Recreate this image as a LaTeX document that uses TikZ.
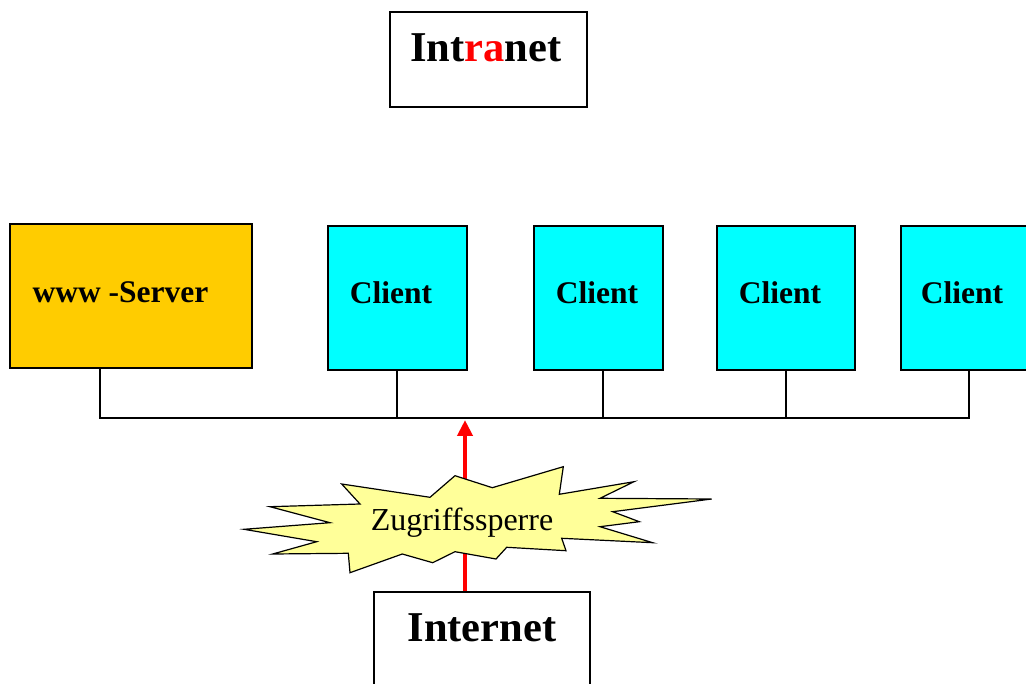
\documentclass[tikz,border=0pt]{standalone}
\usepackage{fontspec}
\setmainfont{Liberation Serif}
\usetikzlibrary{arrows.meta}
\definecolor{servercol}{HTML}{FFCC00}
\definecolor{clientcol}{HTML}{00FFFF}
\definecolor{starcol}{HTML}{FFFF99}
\tikzset{
  box/.style={draw=black, line width=1.6pt, inner sep=0pt},
  clientbox/.style={box, fill=clientcol, minimum width=138, minimum height=144},
  bigtxt/.style={font=\fontsize{42.5}{48}\selectfont\bfseries, inner sep=0pt},
  boxtxt/.style={font=\fontsize{31.5}{36}\selectfont\bfseries, inner sep=0pt},
  startxt/.style={font=\fontsize{32}{36}\selectfont, inner sep=0pt},
  wire/.style={draw=black, line width=1.3pt},
  gate/.style={draw=red, line width=4pt, -{Triangle[length=16pt,width=15pt]}},
}
\begin{document}
\begin{tikzpicture}[x=1pt, y=-1pt]
\useasboundingbox (0,0) rectangle (1026,684);
\clip (0,0) rectangle (1026,684);

% Intranet title
\node[box, minimum width=197, minimum height=95] (intra) at (488.5,59.5) {};
\node[bigtxt] (intratxt) at (486,48) {Int\textcolor{red}{ra}net};

% server and clients
\node[box, fill=servercol, minimum width=242, minimum height=144] (srv) at (131,296) {};
\node[boxtxt] (srvtxt) at (120.5,292) {www -Server};
\node[clientbox, minimum width=139] (c1) at (397.5,298) {};
\node[boxtxt] (c1txt) at (391,293) {Client};
\node[clientbox, minimum width=129] (c2) at (598.5,298) {};
\node[boxtxt] (c2txt) at (597,293) {Client};
\node[clientbox, minimum width=138] (c3) at (786,298) {};
\node[boxtxt] (c3txt) at (780,293) {Client};
\node[clientbox, minimum width=138] (c4) at (970,298) {};
\node[boxtxt] (c4txt) at (962,293) {Client};

% bus taps
\coordinate (t0) at (100,418);
\coordinate (t1) at (397,418);
\coordinate (t2) at (603,418);
\coordinate (t3) at (786,418);
\coordinate (t4) at (969,418);
\coordinate (tip) at (465,420);

\path[wire] (srv.south -| t0) -- (t0) -- (t4) -- (c4.south -| t4);
\path[wire] (c1.south -| t1) -- (t1);
\path[wire] (c2.south -| t2) -- (t2);
\path[wire] (c3.south -| t3) -- (t3);

% Internet box
\node[box, minimum width=216, minimum height=110] (inet) at (482,647) {};
\node[bigtxt] (inettxt) at (482,628) {Internet};

% guarded access from outside
\draw[gate] (inet.north -| tip) -- (tip);

% firewall burst
\draw[line width=1.2pt, fill=starcol, line join=miter]
  (244,529.3) -- (330,522.7) -- (270,506.7) -- (360,504) -- (341.7,484)
  -- (430,497.3) -- (455,475.7) -- (492.3,487.7) -- (563.3,466.7)
  -- (559.3,494.3) -- (634,481.7) -- (600,498.3) -- (711.7,499)
  -- (612.7,511.7) -- (639.3,521.7) -- (600,526.7) -- (652.7,542.7)
  -- (561.7,538.3) -- (566,550.7) -- (506.7,547.3) -- (496,559)
  -- (455,551.7) -- (432.7,562.7) -- (402.3,554) -- (350,572.7)
  -- (348.3,553.3) -- (272.7,554) -- (316.7,541.7) -- cycle;
\node[startxt] (zug) at (462,523) {Zugriffssperre};
\end{tikzpicture}
\end{document}
